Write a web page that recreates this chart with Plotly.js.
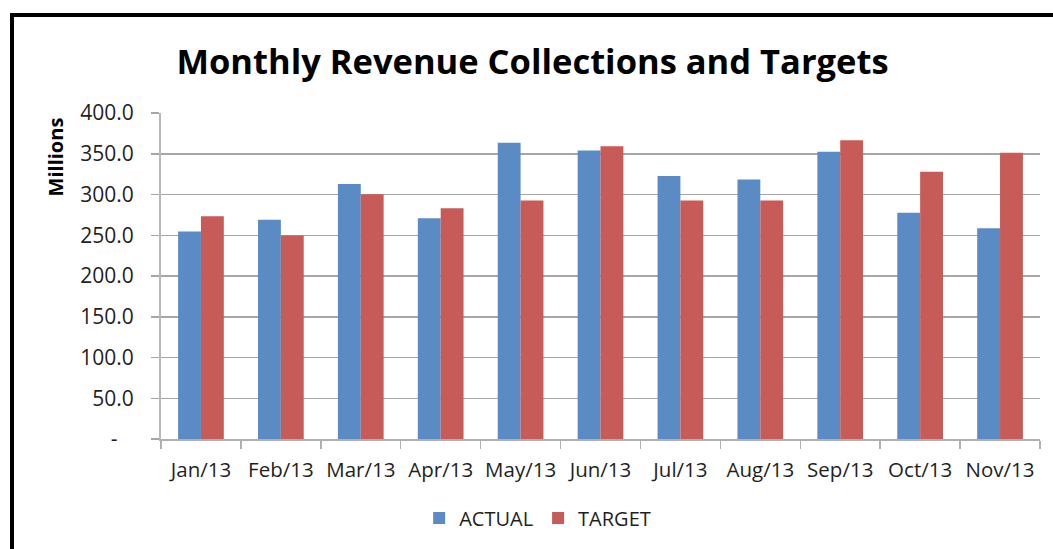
<!DOCTYPE html>
<html>
<head>
<meta charset="utf-8">
<script src="https://cdn.plot.ly/plotly-3.0.1.min.js"></script>
<style>
  html, body { margin: 0; padding: 0; background: #ffffff; overflow: hidden; }
  #wrap { position: relative; width: 1053px; height: 549px; overflow: hidden; }
  #frame { position: absolute; left: 10px; top: 13px; width: 1200px; height: 700px; border: 4px solid #000; box-sizing: border-box; pointer-events: none; z-index: 5; }
  #chart { position: absolute; left: 0; top: 0; width: 1053px; height: 549px; }
</style>
</head>
<body>
<div id="wrap">
  <div id="chart"></div>
  <div id="frame"></div>
</div>
<script>
const months = ["Jan/13", "Feb/13", "Mar/13", "Apr/13", "May/13", "Jun/13", "Jul/13", "Aug/13", "Sep/13", "Oct/13", "Nov/13"];
const actual = [254.5, 269.1, 313.0, 270.8, 363.4, 354.0, 322.8, 318.3, 352.4, 277.6, 258.6];
const target = [273.2, 249.6, 300.4, 283.0, 292.7, 359.3, 292.7, 292.7, 366.6, 328.0, 351.2];
const yTickVals = [0, 50, 100, 150, 200, 250, 300, 350, 400];
const yTickText = ["-\u00a0\u00a0\u00a0", "50.0", "100.0", "150.0", "200.0", "250.0", "300.0", "350.0", "400.0"];

const font = "'Open Sans', 'DejaVu Sans', sans-serif";

const traces = [
  { type: "bar", name: "ACTUAL", x: months, y: actual, marker: { color: "#5b8bc5", line: { width: 0 } } },
  { type: "bar", name: "TARGET", x: months, y: target, marker: { color: "#c65b57", line: { width: 0 } } }
];

const layout = {
  width: 1053, height: 549,
  paper_bgcolor: "#ffffff", plot_bgcolor: "#ffffff",
  margin: { l: 161, r: 13, t: 113, b: 107, pad: 0 },
  barmode: "group", bargap: 0.428, bargroupgap: 0,
  font: { family: font, color: "#1f1f1f", size: 21 },
  title: {
    text: "<b>Monthly Revenue Collections and Targets</b>",
    font: { family: font, size: 34.5, color: "#000000" },
    x: 0.5057, xref: "container", xanchor: "center",
    y: 0.887, yref: "container", yanchor: "middle"
  },
  xaxis: {
    type: "category",
    showgrid: false,
    showline: true, linecolor: "#b0b0b0", linewidth: 2,
    ticks: "outside", tickson: "boundaries", ticklen: 8, tickcolor: "#b0b0b0", tickwidth: 1.5,
    ticklabelstandoff: 11, tickangle: 0,
    tickfont: { family: font, size: 20.5, color: "#1f1f1f" },
    fixedrange: true
  },
  yaxis: {
    range: [0, 400],
    tickvals: yTickVals, ticktext: yTickText,
    showgrid: true, gridcolor: "#a6a6a6", gridwidth: 1.5,
    zeroline: false,
    showline: true, linecolor: "#b8b8b8", linewidth: 2,
    ticks: "outside", ticklen: 8, tickcolor: "#a6a6a6", tickwidth: 1.5,
    ticklabelstandoff: 13,
    tickfont: { family: font, size: 21, color: "#1f1f1f" },
    fixedrange: true
  },
  showlegend: true,
  legend: {
    orientation: "h",
    x: 0.4285, xref: "paper", xanchor: "center",
    y: -0.242, yref: "paper", yanchor: "middle",
    font: { family: font, size: 20, color: "#1f1f1f" },
    itemwidth: 30, tracegroupgap: 0
  },
  annotations: [{
    text: "<b>Millions</b>",
    xref: "paper", yref: "paper",
    x: (55 - 161) / 879, y: (441.5 - 158) / 328.2,
    xanchor: "center", yanchor: "middle",
    textangle: -90, showarrow: false,
    font: { family: font, size: 20, color: "#000000" }
  }]
};

Plotly.newPlot("chart", traces, layout, { displayModeBar: false, staticPlot: true });
</script>
</body>
</html>
